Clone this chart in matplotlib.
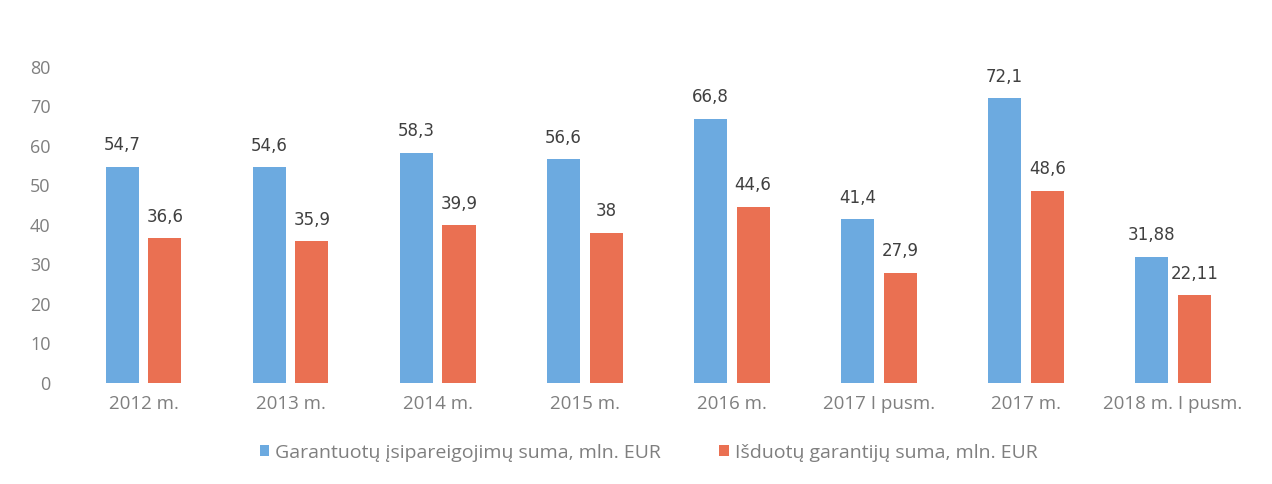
# Garantijos: garantuoti įsipareigojimai ir išduotos garantijos
import numpy as np
import matplotlib.pyplot as plt

plt.rcParams['font.family'] = ['Open Sans', 'DejaVu Sans']

# Duomenys
categories = ['2012 m.', '2013 m.', '2014 m.', '2015 m.', '2016 m.',
              '2017 I pusm.', '2017 m.', '2018 m. I pusm.']
guaranteed = [54.7, 54.6, 58.3, 56.6, 66.8, 41.4, 72.1, 31.88]
issued = [36.6, 35.9, 39.9, 38, 44.6, 27.9, 48.6, 22.11]
guaranteed_labels = ['54,7', '54,6', '58,3', '56,6', '66,8', '41,4', '72,1', '31,88']
issued_labels = ['36,6', '35,9', '39,9', '38', '44,6', '27,9', '48,6', '22,11']
legend_names = ['Garantuotų įsipareigojimų suma, mln. EUR',
                'Išduotų garantijų suma, mln. EUR']

blue = '#6CAAE0'
red = '#EA7052'
grey = '#7F7F7F'

fig = plt.figure(figsize=(12.72, 4.84), dpi=100)
ax = fig.add_axes([0.055, 0.209, 0.925, 0.653])

x = np.arange(len(categories))
w = 0.225
off = 0.145
b1 = ax.bar(x - off, guaranteed, w, color=blue, label=legend_names[0])
b2 = ax.bar(x + off, issued, w, color=red, label=legend_names[1])

# Reikšmių etiketės
for bars, labels in [(b1, guaranteed_labels), (b2, issued_labels)]:
    for bar, lab in zip(bars, labels):
        ax.annotate(lab, (bar.get_x() + bar.get_width() / 2, bar.get_height()),
                    xytext=(0, 9), textcoords='offset points',
                    ha='center', va='bottom', fontsize=12, color='#404040',
                    family='DejaVu Sans')

ax.set_xlim(-0.5, len(categories) - 0.5)
ax.set_ylim(0, 80)
ax.set_yticks(range(0, 81, 10))
ax.set_xticks(x)
ax.set_xticklabels(categories)
ax.tick_params(axis='both', length=0, labelcolor=grey)
ax.tick_params(axis='x', pad=9, labelsize=13.5)
ax.tick_params(axis='y', pad=14, labelsize=13)
for s in ax.spines.values():
    s.set_visible(False)

fig.legend(loc='lower center', bbox_to_anchor=(0.51, 0.01), ncol=2,
           frameon=False, fontsize=14, labelcolor=grey,
           handlelength=0.5, handleheight=0.5, handletextpad=0.3,
           columnspacing=3.0)

fig.savefig('out.png', dpi=100)
